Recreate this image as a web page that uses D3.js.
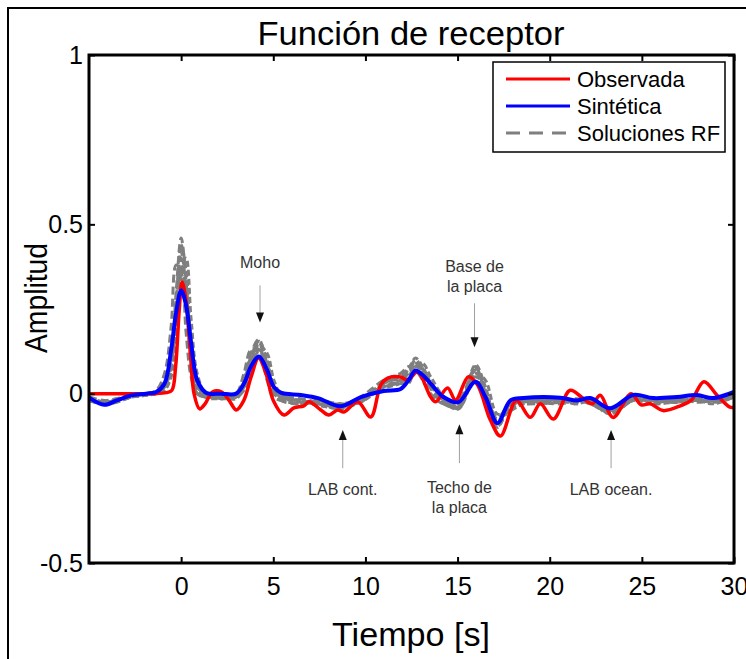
<!DOCTYPE html>
<html>
<head>
<meta charset="utf-8">
<script src="https://cdn.jsdelivr.net/npm/d3@7"></script>
<style>
body { margin: 0; background: #fff; }
text { font-family: "Liberation Sans", Arial, sans-serif; }
</style>
</head>
<body>
<div id="main"></div>
<script>
const w = 746, h = 659

// datos
const tiempoObs = [-5, -3, -1.5, -0.8, -0.5, -0.3, -0.1, 0.05, 0.25, 0.5, 0.7, 1.0, 1.3, 1.7, 2.2, 2.6, 3.0, 3.4, 3.8, 4.2, 4.6, 5.0, 5.58, 6.12, 6.66, 6.93, 7.58, 8.01, 8.5, 8.83, 9.58, 10.29, 10.83, 11.21, 11.91, 12.29, 12.83, 13.54, 13.81, 14.46, 14.89, 15.59, 16.08, 16.78, 17.33, 18.19, 18.95, 19.49, 20.19, 21.11, 21.77, 22.31, 22.74, 23.44, 24.42, 24.96, 25.45, 26.15, 27.12, 27.67, 28.37, 29.07, 29.78, 30]
const observada = [0, 0, 0, 0.003, 0.01, 0.08, 0.25, 0.33, 0.28, 0.12, 0, -0.045, -0.03, 0.005, 0.005, -0.02, -0.048, -0.02, 0.05, 0.105, 0.06, -0.02, -0.063, -0.042, -0.036, -0.024, -0.048, -0.063, -0.048, -0.054, -0.024, -0.069, 0.026, 0.046, 0.049, 0.04, 0.064, -0.01, -0.024, 0.017, -0.019, 0.05, 0.026, -0.078, -0.125, -0.02, -0.07, -0.03, -0.075, 0.01, -0.012, -0.03, -0.005, -0.07, 0, -0.033, -0.03, -0.05, -0.035, -0.02, 0.035, -0.004, -0.04, -0.04]

const tiempoSin = [-5, -4.17, -3.5, -2.7, -1.9, -1.35, -0.9, -0.54, -0.27, 0, 0.27, 0.54, 0.87, 1.35, 2.17, 2.98, 3.41, 3.79, 4.22, 4.66, 5.03, 5.41, 6.5, 7.42, 8.66, 9.75, 10.99, 11.91, 12.34, 12.72, 13.1, 13.54, 14.24, 15.05, 15.97, 16.51, 17.16, 17.87, 18.57, 20.57, 21.49, 22.2, 23.28, 24.53, 25.61, 26.91, 27.99, 28.86, 30]
const sintetica = [-0.012, -0.033, -0.02, -0.005, 0, 0.005, 0.03, 0.13, 0.24, 0.305, 0.26, 0.15, 0.04, 0.003, 0, 0, 0.03, 0.08, 0.11, 0.07, 0.02, 0.003, -0.004, -0.013, -0.037, -0.01, 0.008, 0.014, 0.04, 0.068, 0.055, 0.03, -0.01, -0.025, 0.035, -0.01, -0.087, -0.02, -0.013, -0.012, -0.02, -0.013, -0.043, -0.004, -0.013, -0.01, -0.004, -0.013, 0.005]

// soluciones RF (mismo eje de tiempo que la sintetica)
const solucion1 = [-0.02, -0.03, -0.015, -0.005, 0, 0, 0.02, 0.1, 0.3, 0.46, 0.33, 0.12, 0, -0.01, -0.01, -0.005, 0.04, 0.12, 0.16, 0.08, 0, -0.015, -0.02, -0.03, -0.035, -0.02, 0.03, 0.05, 0.07, 0.1, 0.07, 0.02, -0.02, -0.04, 0.08, 0, -0.07, -0.03, -0.02, -0.025, -0.02, -0.02, -0.05, -0.015, -0.025, -0.02, -0.02, -0.025, -0.01]
const solucion2 = [-0.01, -0.025, -0.02, -0.01, -0.005, 0, 0.015, 0.09, 0.27, 0.42, 0.31, 0.13, 0.01, -0.005, -0.01, -0.01, 0.03, 0.1, 0.145, 0.09, 0.01, -0.01, -0.025, -0.02, -0.04, -0.025, 0.02, 0.04, 0.06, 0.09, 0.075, 0.03, -0.015, -0.035, 0.07, 0.01, -0.08, -0.035, -0.025, -0.02, -0.025, -0.015, -0.055, -0.01, -0.02, -0.025, -0.015, -0.02, -0.005]
const solucion3 = [-0.015, -0.03, -0.025, -0.01, 0, 0.005, 0.02, 0.08, 0.24, 0.38, 0.3, 0.14, 0.02, 0, -0.015, -0.01, 0.025, 0.09, 0.13, 0.09, 0.02, -0.005, -0.015, -0.025, -0.03, -0.015, 0.025, 0.035, 0.05, 0.085, 0.07, 0.035, -0.02, -0.03, 0.06, 0.005, -0.095, -0.04, -0.02, -0.02, -0.03, -0.02, -0.06, -0.02, -0.015, -0.02, -0.02, -0.015, 0]
const solucion4 = [-0.02, -0.025, -0.02, -0.005, 0, 0, 0.01, 0.07, 0.22, 0.35, 0.29, 0.16, 0.03, 0, -0.01, -0.015, 0.02, 0.08, 0.125, 0.085, 0.015, -0.01, -0.02, -0.03, -0.045, -0.02, 0.015, 0.03, 0.045, 0.08, 0.065, 0.025, -0.025, -0.045, 0.05, 0, -0.1, -0.03, -0.025, -0.015, -0.02, -0.025, -0.05, -0.015, -0.02, -0.015, -0.025, -0.02, -0.005]
const solucion5 = [-0.01, -0.02, -0.015, -0.005, 0, 0.005, 0.025, 0.11, 0.28, 0.4, 0.28, 0.1, 0, -0.01, -0.005, -0.005, 0.035, 0.11, 0.15, 0.075, 0.005, -0.02, -0.03, -0.02, -0.03, -0.025, 0.035, 0.045, 0.065, 0.095, 0.06, 0.015, -0.03, -0.04, 0.075, 0.01, -0.075, -0.025, -0.03, -0.025, -0.015, -0.03, -0.045, -0.01, -0.025, -0.02, -0.015, -0.025, -0.01]
const solucion6 = [-0.015, -0.025, -0.02, -0.01, -0.005, 0, 0.01, 0.05, 0.15, 0.36, 0.4, 0.22, 0.06, 0, -0.01, -0.01, 0.01, 0.07, 0.14, 0.12, 0.04, 0, -0.025, -0.03, -0.04, -0.02, 0.02, 0.03, 0.03, 0.08, 0.09, 0.05, -0.01, -0.045, 0.06, 0.04, -0.06, -0.05, -0.03, -0.02, -0.03, -0.02, -0.05, -0.02, -0.02, -0.02, -0.02, -0.02, -0.01]
const solucion7 = [-0.02, -0.03, -0.02, -0.005, 0, 0.01, 0.06, 0.2, 0.38, 0.36, 0.18, 0.05, 0, -0.01, -0.01, 0, 0.06, 0.13, 0.13, 0.04, -0.01, -0.02, -0.03, -0.025, -0.04, -0.01, 0.04, 0.06, 0.08, 0.07, 0.04, 0, -0.03, -0.02, 0.07, -0.03, -0.09, -0.02, -0.02, -0.03, -0.02, -0.03, -0.055, -0.01, -0.02, -0.025, -0.01, -0.02, 0]
const solucion8 = [-0.01, -0.03, -0.025, -0.01, 0, 0, 0.02, 0.09, 0.26, 0.44, 0.36, 0.16, 0.03, -0.01, -0.015, -0.01, 0.03, 0.1, 0.155, 0.1, 0.02, -0.01, -0.02, -0.035, -0.04, -0.02, 0.03, 0.055, 0.075, 0.105, 0.08, 0.03, -0.02, -0.035, 0.085, 0.02, -0.085, -0.045, -0.03, -0.025, -0.025, -0.025, -0.06, -0.02, -0.03, -0.025, -0.02, -0.03, -0.01]

const ticksX = [0, 5, 10, 15, 20, 25, 30]
const ticksY = [-0.5, 0, 0.5, 1]
const leyenda = ['Observada', 'Sintética', 'Soluciones RF']

// notas: tiempo, lineas de texto, amplitud del texto, amplitud inicio y punta de la flecha
const notasArriba = [
    {t: 4.28, texto: ['Moho'], yTexto: 0.37, desde: 0.32, hasta: 0.21},
    {t: 15.92, texto: ['Base de', 'la placa'], yTexto: 0.359, desde: 0.267, hasta: 0.137}
]
const notasAbajo = [
    {t: 8.77, texto: ['LAB cont.'], yTexto: -0.3, desde: -0.22, hasta: -0.107},
    {t: 15.1, texto: ['Techo de', 'la placa'], yTexto: -0.294, desde: -0.205, hasta: -0.09},
    {t: 23.33, texto: ['LAB ocean.'], yTexto: -0.3, desde: -0.22, hasta: -0.107}
]

const svg = d3.select('#main')
    .append('svg')
    .attr('width', w)
    .attr('height', h)
    .style('display', 'block')

svg.append('rect').attr('width', w).attr('height', h).attr('fill', '#fff')

// marco exterior
svg.append('path')
    .attr('d', `M8,${h + 5} L8,8 L${w + 5},8`)
    .attr('fill', 'none')
    .attr('stroke', '#000')
    .attr('stroke-width', 2)

const pLeft = 89, pRight = 734, pTop = 55, pBottom = 563

const xScale = d3.scaleLinear().domain([-5, 30]).range([pLeft, pRight])
const yScale = d3.scaleLinear().domain([-0.5, 1]).range([pBottom, pTop])

svg.append('clipPath').attr('id', 'clip')
    .append('rect')
    .attr('x', pLeft).attr('y', pTop)
    .attr('width', pRight - pLeft).attr('height', pBottom - pTop)

const line = (tiempos) => d3.line()
    .x((d, i) => xScale(tiempos[i]))
    .y(d => yScale(d))
    .curve(d3.curveCatmullRom.alpha(0.5))

const plot = svg.append('g').attr('clip-path', 'url(#clip)')

const soluciones = [solucion1, solucion2, solucion3, solucion4, solucion5, solucion6, solucion7, solucion8]
plot.selectAll('.rf')
    .data(soluciones)
    .enter()
    .append('path')
    .attr('class', 'rf')
    .attr('d', line(tiempoSin))
    .attr('fill', 'none')
    .attr('stroke', '#7f7f7f')
    .attr('stroke-width', 3)
    .attr('stroke-dasharray', (d, i) => i % 2 ? '6,3' : '8,4')

plot.append('path')
    .attr('d', line(tiempoObs)(observada))
    .attr('fill', 'none')
    .attr('stroke', '#ff0000')
    .attr('stroke-width', 3.5)
    .attr('stroke-linejoin', 'round')

plot.append('path')
    .attr('d', line(tiempoSin)(sintetica))
    .attr('fill', 'none')
    .attr('stroke', '#0000ff')
    .attr('stroke-width', 4)
    .attr('stroke-linejoin', 'round')

// ejes
const fontTicks = 25
const xAxis = d3.axisBottom(xScale).tickValues(ticksX).tickSizeInner(-6).tickSizeOuter(0).tickPadding(14)
const gx = svg.append('g').attr('transform', `translate(0,${pBottom})`).call(xAxis)
gx.selectAll('text').style('font-size', fontTicks + 'px').attr('fill', '#000')

const yAxis = d3.axisLeft(yScale).tickValues(ticksY).tickSizeInner(-6).tickSizeOuter(0).tickPadding(6)
    .tickFormat(d => d)
const gy = svg.append('g').attr('transform', `translate(${pLeft},0)`).call(yAxis)
gy.selectAll('text').style('font-size', fontTicks + 'px').attr('fill', '#000')

svg.append('g').attr('transform', `translate(0,${pTop})`)
    .call(d3.axisTop(xScale).tickValues(ticksX).tickSizeInner(-6).tickSizeOuter(0).tickFormat(''))
svg.append('g').attr('transform', `translate(${pRight},0)`)
    .call(d3.axisRight(yScale).tickValues(ticksY).tickSizeInner(-6).tickSizeOuter(0).tickFormat(''))

svg.selectAll('.domain').remove()
svg.selectAll('.tick line').attr('stroke', '#000').attr('stroke-width', 2)

svg.append('rect')
    .attr('x', pLeft).attr('y', pTop)
    .attr('width', pRight - pLeft).attr('height', pBottom - pTop)
    .attr('fill', 'none')
    .attr('stroke', '#000')
    .attr('stroke-width', 3)

// titulos
svg.append('text')
    .text('Función de receptor')
    .attr('x', 411)
    .attr('y', 45)
    .attr('text-anchor', 'middle')
    .attr('textLength', 307)
    .attr('lengthAdjust', 'spacingAndGlyphs')
    .style('font-size', '33px')

svg.append('text')
    .text('Tiempo [s]')
    .attr('x', 411)
    .attr('y', 646)
    .attr('text-anchor', 'middle')
    .attr('textLength', 158)
    .attr('lengthAdjust', 'spacingAndGlyphs')
    .style('font-size', '33px')

svg.append('text')
    .text('Amplitud')
    .attr('transform', `translate(47,298) rotate(-90)`)
    .attr('text-anchor', 'middle')
    .attr('textLength', 110)
    .attr('lengthAdjust', 'spacingAndGlyphs')
    .style('font-size', '32px')

// anotaciones
const flecha = (g, x, y0, y1) => {
    const dir = y1 > y0 ? 1 : -1
    g.append('line')
        .attr('x1', x).attr('x2', x)
        .attr('y1', y0).attr('y2', y1 - dir * 8)
        .attr('stroke', '#a0a0a0')
        .attr('stroke-width', 1)
    g.append('path')
        .attr('d', `M${x - 4},${y1 - dir * 10} L${x + 4},${y1 - dir * 10} L${x},${y1} Z`)
        .attr('fill', '#111')
}

const notas = svg.append('g')
notasArriba.concat(notasAbajo).forEach(n => {
    const x = xScale(n.t)
    n.texto.forEach((s, i) => {
        notas.append('text')
            .text(s)
            .attr('x', x)
            .attr('y', yScale(n.yTexto) + i * 20)
            .attr('text-anchor', 'middle')
            .attr('fill', '#333')
            .style('font-size', '16px')
    })
    flecha(notas, x, yScale(n.desde), yScale(n.hasta))
})

// leyenda
const legend = svg.append('g')
legend.append('rect')
    .attr('x', 493).attr('y', 62)
    .attr('width', 232).attr('height', 90)
    .attr('fill', '#fff')
    .attr('stroke', '#000')
    .attr('stroke-width', 1.5)

const estilos = [
    {color: '#ff0000', dash: null, ancho: 3},
    {color: '#0000ff', dash: null, ancho: 3},
    {color: '#7f7f7f', dash: '14,9', ancho: 3}
]
leyenda.forEach((s, i) => {
    const y = 79 + i * 27
    legend.append('line')
        .attr('x1', 506).attr('x2', 570)
        .attr('y1', y).attr('y2', y)
        .attr('stroke', estilos[i].color)
        .attr('stroke-width', estilos[i].ancho)
        .attr('stroke-dasharray', estilos[i].dash)
    legend.append('text')
        .text(s)
        .attr('x', 577)
        .attr('y', y)
        .attr('dy', '0.36em')
        .style('font-size', '22px')
})
</script>
</body>
</html>
